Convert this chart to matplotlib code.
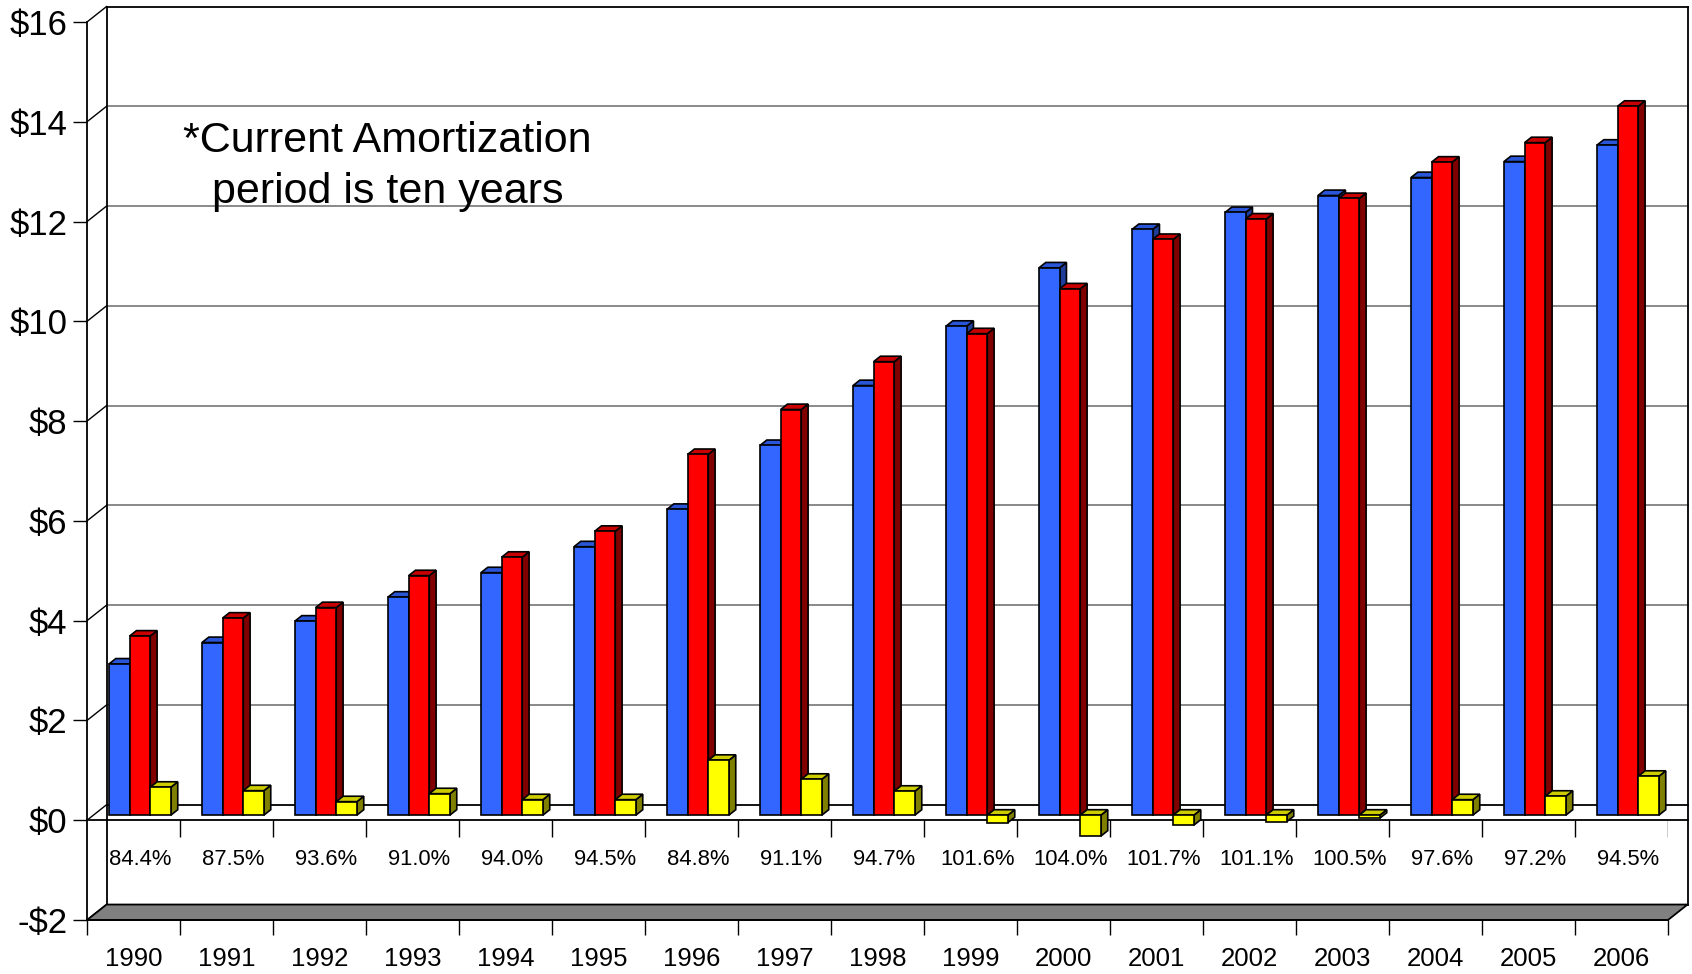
import matplotlib
matplotlib.use("Agg")
import matplotlib.pyplot as plt
from matplotlib.patches import Polygon

plt.rcParams["font.family"] = ["Liberation Sans", "DejaVu Sans"]

# data
years = ["1990", "1991", "1992", "1993", "1994", "1995", "1996", "1997", "1998",
         "1999", "2000", "2001", "2002", "2003", "2004", "2005", "2006"]
blue_vals = [3.03, 3.46, 3.89, 4.37, 4.86, 5.38, 6.13, 7.41, 8.61,
             9.80, 10.97, 11.74, 12.08, 12.42, 12.78, 13.10, 13.43]
red_vals = [3.59, 3.95, 4.16, 4.80, 5.17, 5.69, 7.23, 8.13, 9.09,
            9.65, 10.55, 11.54, 11.95, 12.36, 13.09, 13.48, 14.21]
yellow_vals = [0.56, 0.49, 0.27, 0.43, 0.31, 0.31, 1.10, 0.72, 0.48,
               -0.15, -0.42, -0.20, -0.13, -0.06, 0.31, 0.38, 0.78]
pct_labels = ["84.4%", "87.5%", "93.6%", "91.0%", "94.0%", "94.5%", "84.8%", "91.1%", "94.7%",
              "101.6%", "104.0%", "101.7%", "101.1%", "100.5%", "97.6%", "97.2%", "94.5%"]
y_ticks = [-2, 0, 2, 4, 6, 8, 10, 12, 14, 16]
note = "*Current Amortization\nperiod is ten years"

# colours: front, top, side
series = [
    (blue_vals, "#3366FF", "#2A55D6", "#1F3D99"),
    (red_vals, "#FF0000", "#C80000", "#800000"),
    (yellow_vals, "#FFFF00", "#CCCC00", "#808000"),
]

# depth of the fake 3d box in data units
DX = 0.21
DY = 0.31
F0, F1 = 0.33, 0.68   # bar front / back depth fraction
W = 0.222
YMIN, YMAX = -2, 16
N = len(years)

fig = plt.figure(figsize=(16.92, 9.74), dpi=100)
ax = fig.add_axes([0.05142, 0.05544, 0.93440, 0.92197])
ax.set_xlim(0, N)
ax.set_ylim(YMIN, YMAX)
ax.patch.set_visible(False)
for s in ["top", "right"]:
    ax.spines[s].set_visible(False)
ax.spines["left"].set_linewidth(1.3)
ax.spines["bottom"].set_linewidth(1.3)

# back wall gridlines + side wall diagonals
for v in y_ticks:
    col = "black" if v in (0, YMAX) else "#808080"
    ax.plot([DX, N + DX], [v + DY, v + DY], color=col, lw=1.3, clip_on=False, zorder=1)
    ax.plot([0, DX], [v, v + DY], color="black", lw=1.0, clip_on=False, zorder=1)
ax.plot([DX, DX], [YMIN + DY, YMAX + DY], color="black", lw=1.3, clip_on=False, zorder=1)
ax.plot([N + DX, N + DX], [YMIN + DY, YMAX + DY], color="black", lw=1.3, clip_on=False, zorder=1)

# floor
floor = Polygon([(0, YMIN), (N, YMIN), (N + DX, YMIN + DY), (DX, YMIN + DY)],
                closed=True, facecolor="#808080", edgecolor="black", lw=1.3,
                clip_on=False, zorder=2)
ax.add_patch(floor)

# category axis at zero on the front plane
ax.plot([0, N + DX], [0, 0], color="black", lw=1.3, clip_on=False, zorder=2)
ax.vlines(range(1, N + 1), -0.33, 0, color="black", lw=1.0, zorder=2)

# bars
z = 3
for i in range(N):
    for j, (vals, c_front, c_top, c_side) in enumerate(series):
        v = vals[i]
        x0 = i + 0.5 - 1.5 * W + j * W
        top = max(v, 0)
        bot = min(v, 0)
        side = Polygon([(x0 + W + F0 * DX, bot + F0 * DY), (x0 + W + F1 * DX, bot + F1 * DY),
                        (x0 + W + F1 * DX, top + F1 * DY), (x0 + W + F0 * DX, top + F0 * DY)],
                       closed=True, facecolor=c_side, edgecolor="black", lw=1.2, zorder=z)
        topf = Polygon([(x0 + F0 * DX, top + F0 * DY), (x0 + W + F0 * DX, top + F0 * DY),
                        (x0 + W + F1 * DX, top + F1 * DY), (x0 + F1 * DX, top + F1 * DY)],
                       closed=True, facecolor=c_top, edgecolor="black", lw=1.2, zorder=z)
        ax.add_patch(side)
        ax.add_patch(topf)
        ax.bar(x0 + F0 * DX, v, W, bottom=F0 * DY, align="edge", color=c_front,
               edgecolor="black", lw=1.2, zorder=z)
        z += 1

# percent labels
for i, lab in enumerate(pct_labels):
    ax.text(i + 0.575, -0.79, lab, ha="center", va="center", fontsize=15.8, zorder=2)

ax.text(3.23, 13.1, note, ha="center", va="center", fontsize=31, linespacing=1.35)

# ticks
ax.set_yticks(y_ticks)
ax.set_yticklabels([f"-${-v}" if v < 0 else f"${v}" for v in y_ticks])
ax.tick_params(axis="y", direction="out", length=10, width=1, pad=4, labelsize=25)
ax.set_xticks(range(N + 1))
ax.set_xticklabels([])
ax.tick_params(axis="x", which="major", direction="out", length=11, width=1)
ax.set_xticks([i + 0.5 for i in range(N)], minor=True)
ax.set_xticklabels(years, minor=True)
ax.tick_params(axis="x", which="minor", length=0, pad=19.5, labelsize=18.5)

fig.savefig("out.png", dpi=100)
